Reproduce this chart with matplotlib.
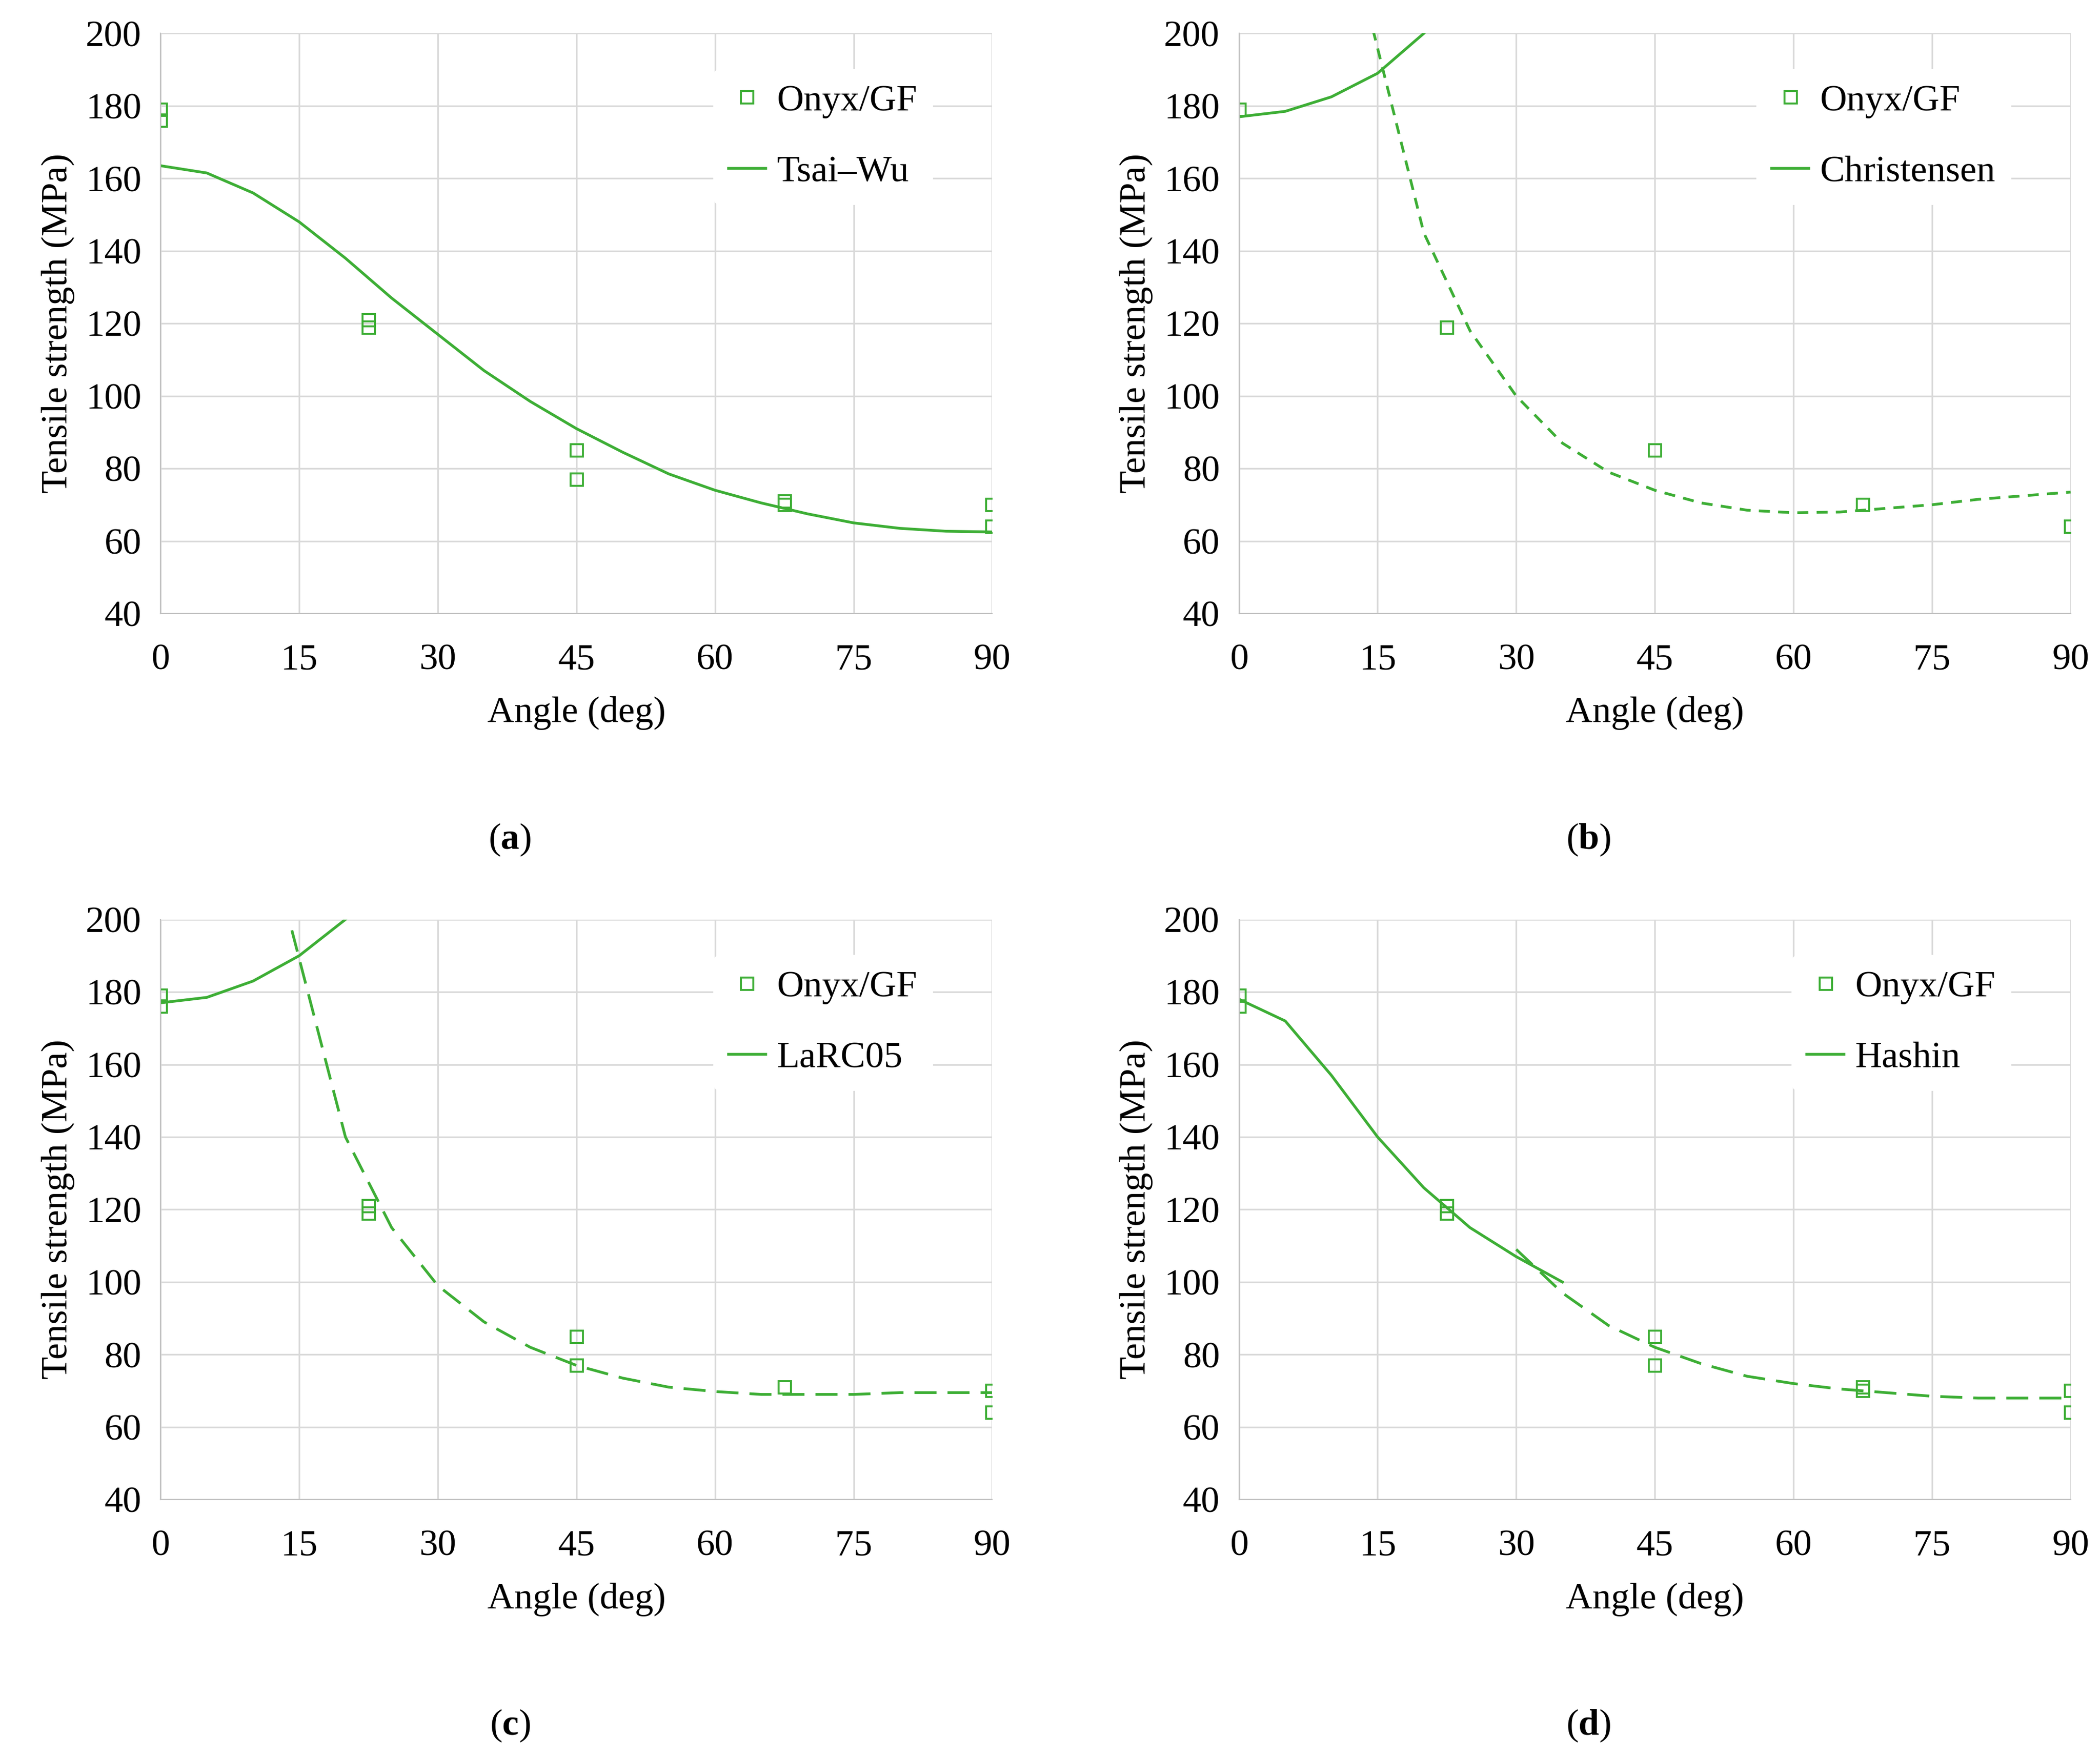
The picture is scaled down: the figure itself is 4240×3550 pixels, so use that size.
import matplotlib.pyplot as plt

GREEN = "#3DAE35"
plt.rcParams["font.family"] = "Liberation Serif"
plt.rcParams["mathtext.fontset"] = "custom"
plt.rcParams["mathtext.rm"] = "Liberation Serif"
plt.rcParams["mathtext.bf"] = "Liberation Serif:bold"

exp_angles = [0, 0, 22.5, 22.5, 45, 45, 67.5, 67.5, 90, 90]
exp_a = [179, 176, 121, 119, 85, 77, 71, 70, 70, 64]
exp_b_angles = [0, 22.5, 45, 67.5, 90]
exp_b = [179, 119, 85, 70, 64]
exp_c = [179, 176, 121, 119, 85, 77, 71, 71, 70, 64]
exp_d = [179, 176, 121, 119, 85, 77, 71, 70, 70, 64]

grid5 = list(range(0, 91, 5))
tsai_wu = [163.5, 161.5, 156, 148, 138, 127, 117, 107, 98.5, 91, 84.5,
           78.5, 74, 70.5, 67.5, 65, 63.5, 62.7, 62.5]

chr_solid_x = [0, 5, 10, 15, 20]
chr_solid = [177, 178.5, 182.5, 189, 200]
chr_dash_x = [14.5, 20, 25, 30, 35, 40, 45, 50, 55, 60, 65, 70, 75, 80, 85, 90]
chr_dash = [201, 145, 118, 100, 87, 79, 74, 70.5, 68.5, 67.8, 68, 69, 70,
            71.5, 72.5, 73.5]

larc_solid_x = [0, 5, 10, 15, 20]
larc_solid = [177, 178.5, 183, 190, 200]
larc_dash_x = [14.2, 20, 25, 30, 35, 40, 45, 50, 55, 60, 65, 70, 75, 80, 85, 90]
larc_dash = [197, 140, 115, 99, 89, 82, 77, 73.5, 71, 69.8, 69, 69, 69,
             69.5, 69.5, 69.5]

hash_solid_x = [0, 5, 10, 15, 20, 25, 30, 35]
hash_solid = [178, 172, 157, 140, 126, 115, 107, 100]
hash_dash_x = [30, 35, 40, 45, 50, 55, 60, 65, 70, 75, 80, 85, 90]
hash_dash = [109, 97, 88, 82, 77.5, 74, 72, 70.5, 69.5, 68.5, 68, 68, 68]

FS = 27
fig = plt.figure(figsize=(21.2, 17.75), dpi=200)
positions = [(0.0765, 0.651), (0.590, 0.651), (0.0765, 0.147), (0.590, 0.147)]
letters = ["a", "b", "c", "d"]
axes = [fig.add_axes([x, y, 0.396, 0.330]) for x, y in positions]

def style(ax):
    ax.set_xlim(0, 90)
    ax.set_ylim(40, 200)
    ax.set_xticks(range(0, 91, 15))
    ax.set_yticks(range(40, 201, 20))
    ax.grid(True, color="#D9D9D9", lw=1.2)
    ax.set_axisbelow(True)
    for s in ["top", "right"]:
        ax.spines[s].set_visible(False)
    for s in ["left", "bottom"]:
        ax.spines[s].set_color("#BFBFBF")
    ax.tick_params(axis="x", length=0, labelsize=FS, pad=22)
    ax.tick_params(axis="y", length=0, labelsize=FS, pad=14)
    ax.set_xlabel("Angle (deg)", fontsize=FS, labelpad=14)
    ax.set_ylabel("Tensile strength (MPa)", fontsize=FS, labelpad=8)

mk = dict(ls="none", marker="s", mfc="none", mec=GREEN, ms=9, mew=1.4)

ax = axes[0]
ax.plot(exp_angles, exp_a, label="Onyx/GF", **mk)
ax.plot(grid5, tsai_wu, color=GREEN, lw=2, label="Tsai\u2013Wu")

ax = axes[1]
ax.plot(exp_b_angles, exp_b, label="Onyx/GF", **mk)
ax.plot(chr_solid_x, chr_solid, color=GREEN, lw=2, label="Christensen")
ax.plot(chr_dash_x, chr_dash, color=GREEN, lw=2, ls=(0, (4, 3)))

ax = axes[2]
ax.plot(exp_angles, exp_c, label="Onyx/GF", **mk)
ax.plot(larc_solid_x, larc_solid, color=GREEN, lw=2, label="LaRC05")
ax.plot(larc_dash_x, larc_dash, color=GREEN, lw=2, ls=(0, (8, 4)))

ax = axes[3]
ax.plot(exp_angles, exp_d, label="Onyx/GF", **mk)
ax.plot(hash_solid_x, hash_solid, color=GREEN, lw=2, label="Hashin")
ax.plot(hash_dash_x, hash_dash, color=GREEN, lw=2, ls=(0, (8, 4)))

for ax, letter in zip(axes, letters):
    style(ax)
    ax.legend(loc="upper right", bbox_to_anchor=(0.95, 0.97), fontsize=FS,
              frameon=True, framealpha=1, edgecolor="white",
              labelspacing=1.0, handlelength=1.0, handletextpad=0.3)
    ax.text(0.42, -0.39, r"($\mathbf{" + letter + r"}$)", transform=ax.transAxes,
            ha="center", va="center", fontsize=FS)

fig.savefig("out.png", dpi=200)
